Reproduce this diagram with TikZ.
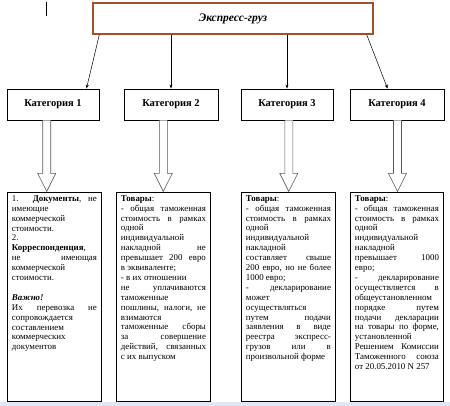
\documentclass[tikz,border=0pt]{standalone}
\usepackage{fontspec}
\setmainfont{Liberation Serif}
\usetikzlibrary{arrows.meta, positioning, calc}
\definecolor{BoxBrown}{RGB}{165, 80, 40}
\definecolor{StripBlue}{RGB}{222, 232, 246}
\newcommand{\jline}[1]{\makebox[\linewidth][s]{#1}}

\begin{document}
\begin{tikzpicture}[x=1pt, y=1pt,
  topbox/.style={draw=BoxBrown, line width=1.4pt, fill=white,
                 minimum width=280pt, minimum height=31pt,
                 font=\bfseries\itshape\fontsize{11.5}{13}\selectfont},
  cat/.style={draw, line width=0.9pt, minimum height=31pt,
              font=\bfseries\fontsize{10.5}{12}\selectfont},
  txt/.style={draw, line width=0.9pt, anchor=north west,
              inner xsep=4.5pt, inner ysep=3pt,
              font=\fontsize{8.9}{9.9}\selectfont},
  eg/.style={-{Stealth[length=4pt, width=3pt]}, line width=0.5pt},
  hollow/.style={draw=black!65, fill=white, line width=0.6pt}
]
  \useasboundingbox (0,0) rectangle (450,-406);
  \fill[StripBlue] (0,-402) rectangle (450,-406);
  \draw[line width=0.8pt] (46.5,-2) -- (46.5,-16);

  \node[topbox] (ex) at (233,-18.5) {Экспресс-груз};

  \node[cat, minimum width=92pt] (k1) at (53,-104.5)  {Категория 1};
  \node[cat, minimum width=94pt] (k2) at (171,-104.5) {Категория 2};
  \node[cat, minimum width=92pt] (k3) at (287,-104.5) {Категория 3};
  \node[cat, minimum width=94pt] (k4) at (397,-104.5) {Категория 4};

  \draw[eg] ([xshift=7pt]ex.south west) -- ([xshift=-13pt]k1.north east);
  \draw[eg] (ex.south -| k2.north) -- (k2.north);
  \draw[eg] (ex.south -| k3.north) -- (k3.north);
  \draw[eg] ([xshift=-7pt]ex.south east) -- ([xshift=38pt]k4.north west);

  \node[txt] (t1) at (7,-192) {\parbox[t][203pt][t]{85pt}{%
    \jline{1. \textbf{Документы}, не}\\
    имеющие\\
    коммерческой\\
    стоимости.\\
    2.\\
    \textbf{Корреспонденция},\\
    \jline{не имеющая}\\
    коммерческой\\
    стоимости.\\[9.9pt]
    \textbf{\itshape Важно!}\\
    \jline{Их перевозка не}\\
    сопровождается\\
    составлением\\
    коммерческих\\
    документов}};

  \node[txt] (t2) at (116,-192) {\parbox[t][203pt][t]{85pt}{%
    \textbf{Товары}:\\
    \jline{- общая таможенная}\\
    \jline{стоимость в рамках}\\
    одной\\
    индивидуальной\\
    \jline{накладной не}\\
    \jline{превышает 200 евро}\\
    в эквиваленте;\\
    - в их отношении\\
    \jline{не уплачиваются}\\
    таможенные\\
    \jline{пошлины, налоги, не}\\
    взимаются\\
    \jline{таможенные сборы}\\
    \jline{за совершение}\\
    \jline{действий, связанных}\\
    с их выпуском}};

  \node[txt] (t3) at (241,-192) {\parbox[t][203pt][t]{85pt}{%
    \textbf{Товары}:\\
    \jline{- общая таможенная}\\
    \jline{стоимость в рамках}\\
    одной\\
    индивидуальной\\
    накладной\\
    \jline{составляет свыше}\\
    \jline{200 евро, но не более}\\
    1000 евро;\\
    \jline{- декларирование}\\
    может\\
    осуществляться\\
    \jline{путем подачи}\\
    \jline{заявления в виде}\\
    \jline{реестра экспресс-}\\
    \jline{грузов или в}\\
    произвольной форме}};

  \node[txt] (t4) at (350,-192) {\parbox[t][203pt][t]{84pt}{%
    \textbf{Товары}:\\
    \jline{- общая таможенная}\\
    \jline{стоимость в рамках}\\
    одной\\
    индивидуальной\\
    накладной\\
    \jline{превышает 1000}\\
    евро;\\
    \jline{- декларирование}\\
    \jline{осуществляется в}\\
    общеустановленном\\
    \jline{порядке путем}\\
    \jline{подачи декларации}\\
    \jline{на товары по форме,}\\
    установленной\\
    \jline{Решением Комиссии}\\
    \jline{Таможенного союза}\\
    от 20.05.2010 N 257}};

  % hollow arrows from categories down to the text boxes
  \foreach \i/\dx in {1/-6.3, 2/-7.7, 3/1.8, 4/0.5}
    \draw[hollow] ([xshift=\dx pt]k\i.south) ++(-4,0) -- ++(0,-53)
      -- ++(-5,0) -- ++(9,-18) -- ++(9,18) -- ++(-5,0) -- ++(0,53);
\end{tikzpicture}
\end{document}
